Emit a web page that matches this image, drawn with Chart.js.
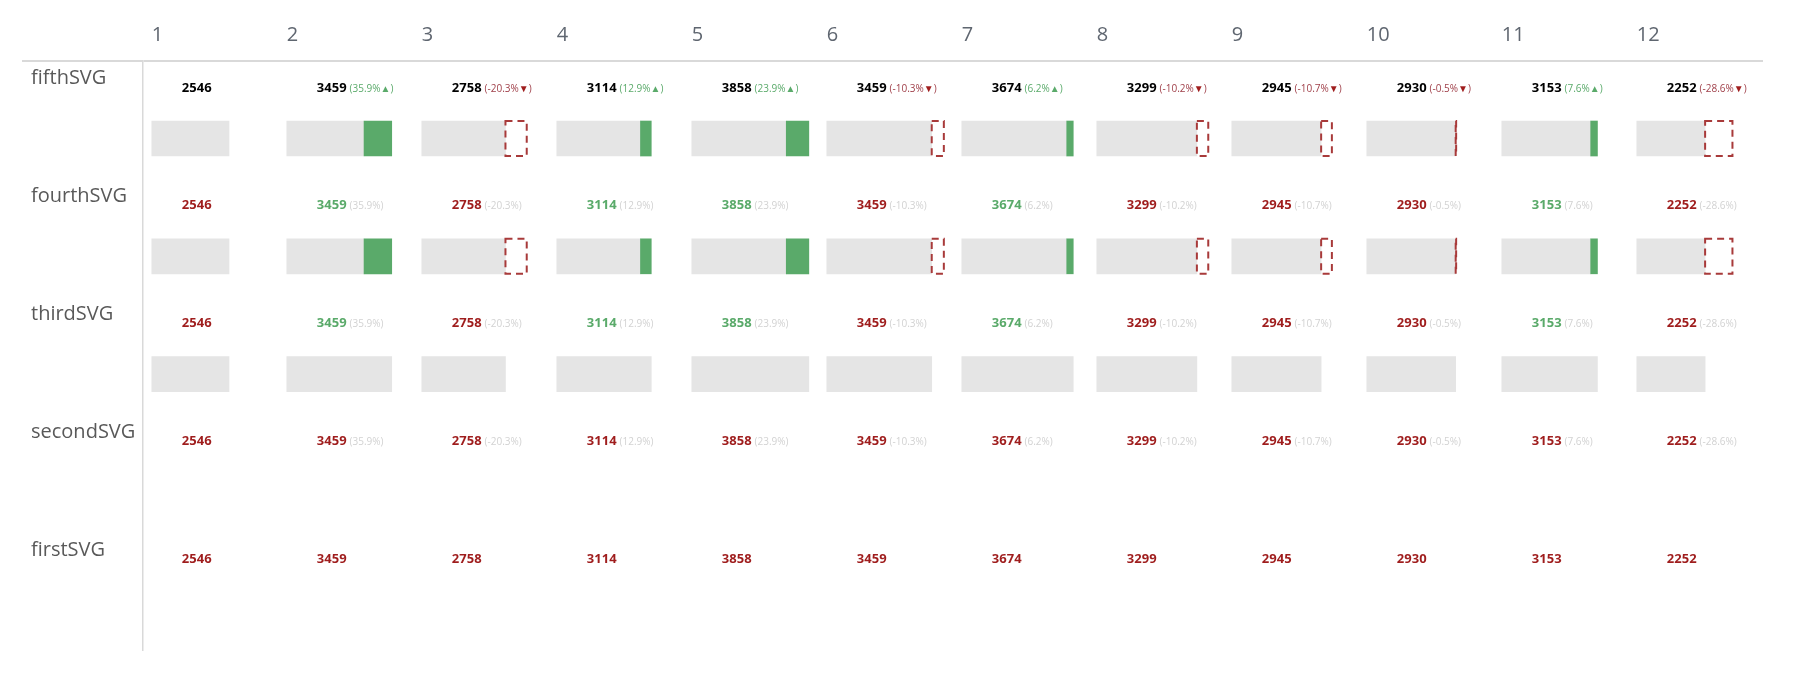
<!DOCTYPE html>
<html>
<head>
<meta charset="utf-8">
<script src="https://cdn.jsdelivr.net/npm/chart.js@4.4.1/dist/chart.umd.min.js"></script>
<style>
html,body{margin:0;padding:0;background:#ffffff;}
#wrap{width:1814px;height:682px;}
</style>
</head>
<body>
<div id="wrap"><canvas id="c" width="1814" height="682"></canvas></div>
<script>
// ---- data ----
const categories = ['1','2','3','4','5','6','7','8','9','10','11','12'];
const rowLabels = ['fifthSVG','fourthSVG','thirdSVG','secondSVG','firstSVG'];
const values = [2546,3459,2758,3114,3858,3459,3674,3299,2945,2930,3153,2252];
const changeLabels = [null,'35.9','-20.3','12.9','23.9','-10.3','6.2','-10.2','-10.7','-0.5','7.6','-28.6'];

// ---- layout constants (value units of the x scale) ----
const COL = 4450;          // width of one column in x units
const PAD = 290;           // bar start inside a column
const TEXT_SHIFT = 990;    // text start from bar start
const BAR_ROW = 0.658;     // bar centre within a row
const TEXT_ROW = 0.26;     // text baseline within a row
const LABEL_ROW = 0.15;    // row label position within a row
const FONT = '"Open Sans", "Noto Sans", sans-serif';

const GREEN = '#5aaa6a';
const RED = '#9f1d1d';
const GRAY_BAR = '#e5e5e5';
const DASH = '#a83a3a';

const start = k => k * COL + PAD;

const baseData = [], upData = [], downData = [];
[0, 1].forEach(r => {
  values.forEach((v, k) => {
    const prev = k ? values[k - 1] : v;
    const yv = r + BAR_ROW;
    baseData.push({x: [start(k), start(k) + Math.min(v, prev)], y: yv});
    if (v > prev) upData.push({x: [start(k) + prev, start(k) + v], y: yv});
    else if (v < prev) downData.push({x: [start(k) + v, start(k) + prev], y: yv});
  });
});
values.forEach((v, k) => baseData.push({x: [start(k), start(k) + v], y: 2 + BAR_ROW}));

const dashPlugin = {
  id: 'dashedOutline',
  afterDatasetsDraw(chart) {
    const ctx = chart.ctx;
    chart.data.datasets.forEach((ds, i) => {
      if (!ds.dashed) return;
      const meta = chart.getDatasetMeta(i);
      ctx.save();
      ctx.setLineDash([7, 5]);
      ctx.lineWidth = 2;
      ctx.strokeStyle = DASH;
      meta.data.forEach(el => {
        const p = el.getProps(['x', 'y', 'base', 'height'], true);
        const l = Math.min(p.x, p.base), w = Math.abs(p.x - p.base);
        ctx.strokeRect(l, p.y - p.height / 2, w, p.height);
      });
      ctx.restore();
    });
  }
};

const textPlugin = {
  id: 'cellText',
  afterDatasetsDraw(chart) {
    const {ctx} = chart;
    const xs = chart.scales.x, ys = chart.scales.y;
    ctx.save();
    ctx.textBaseline = 'alphabetic';
    ctx.textAlign = 'left';
    rowLabels.forEach((row, r) => {
      values.forEach((v, k) => {
        const prev = k ? values[k - 1] : null;
        const up = prev !== null && v > prev;
        let px = xs.getPixelForValue(start(k) + TEXT_SHIFT);
        const py = ys.getPixelForValue(r + TEXT_ROW);
        let valColor = RED;
        if (r === 0) valColor = '#000000';
        else if (r === 1 || r === 2) valColor = (prev === null || !up) ? RED : GREEN;
        ctx.font = 'bold 13px ' + FONT;
        ctx.fillStyle = valColor;
        const txt = String(v);
        ctx.fillText(txt, px, py);
        px += ctx.measureText(txt).width + 3;
        const pct = changeLabels[k];
        if (pct === null || r === 4) return;
        ctx.font = '10px ' + FONT;
        if (r === 0) {
          const col = up ? GREEN : '#a0404a';
          const s1 = '(' + pct + '%';
          ctx.fillStyle = col;
          ctx.fillText(s1, px, py);
          px += ctx.measureText(s1).width;
          const arrow = up ? '\u25B2' : '\u25BC';
          ctx.fillStyle = up ? GREEN : RED;
          ctx.fillText(arrow, px, py);
          px += ctx.measureText(arrow).width;
          ctx.fillStyle = col;
          ctx.fillText(')', px, py);
        } else {
          ctx.fillStyle = '#d2d2d2';
          ctx.fillText('(' + pct + '%)', px, py);
        }
      });
    });
    ctx.restore();
  }
};

new Chart(document.getElementById('c'), {
  type: 'bar',
  data: {
    datasets: [
      {label: 'increase', data: upData, backgroundColor: GREEN, borderWidth: 0, grouped: false, order: 1, barThickness: 35},
      {label: 'decrease', data: downData, backgroundColor: 'rgba(0,0,0,0)', borderWidth: 0, grouped: false, order: 2, barThickness: 35, dashed: true},
      {label: 'base', data: baseData, backgroundColor: GRAY_BAR, borderWidth: 0, grouped: false, order: 3, barThickness: 35}
    ]
  },
  plugins: [dashPlugin, textPlugin],
  options: {
    responsive: false,
    animation: false,
    events: [],
    indexAxis: 'y',
    layout: {padding: {left: 31, right: 51, top: 0, bottom: 32}},
    plugins: {legend: {display: false}, tooltip: {enabled: false}},
    scales: {
      x: {
        type: 'linear', position: 'top', min: 0, max: 12 * COL, offset: false,
        afterBuildTicks: s => { s.ticks = categories.map((c, i) => ({value: start(i)})); },
        afterFit: s => { s.height = 61; },
        grid: {display: false, drawTicks: false, offset: false},
        border: {display: false},
        ticks: {
          autoSkip: false, maxRotation: 0, minRotation: 0, align: 'start', padding: 13.5,
          color: '#5f6670', font: {family: FONT, size: 20},
          callback: (v, i) => categories[i]
        }
      },
      y: {
        type: 'linear', position: 'left', min: 0, max: 5, reverse: true, offset: false,
        afterBuildTicks: s => { s.ticks = [{value: 0}].concat(rowLabels.map((r, i) => ({value: i + LABEL_ROW}))); },
        afterFit: s => { s.width = 112; },
        grid: {
          offset: false,
          color: c => c.index === 0 ? '#d9d9d9' : 'rgba(0,0,0,0)',
          lineWidth: c => c.index === 0 ? 2 : 0,
          tickLength: 121, drawTicks: true
        },
        border: {display: true, color: '#d9d9d9', width: 1.5},
        ticks: {
          autoSkip: false, crossAlign: 'far', padding: 0,
          color: '#595959', font: {family: FONT, size: 20},
          callback: (v, i) => i === 0 ? '' : rowLabels[i - 1]
        }
      }
    }
  }
});
</script>
</body>
</html>
